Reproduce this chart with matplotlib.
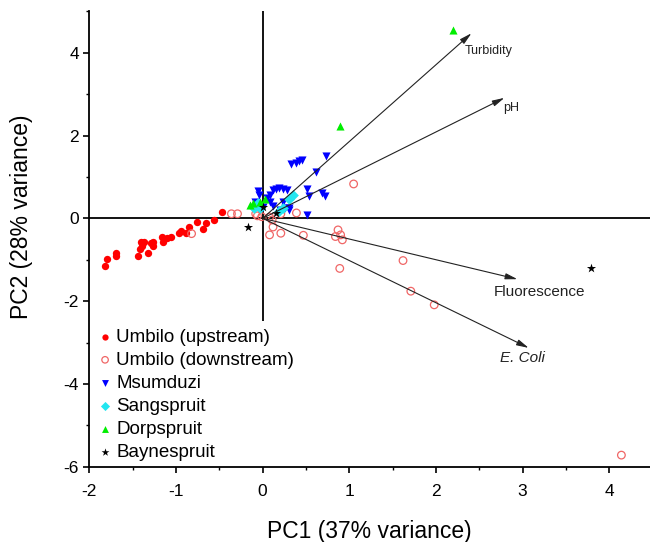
import matplotlib
matplotlib.use("Agg")
import matplotlib.pyplot as plt
from matplotlib.ticker import MultipleLocator

plt.rcParams['font.family'] = ['Liberation Sans', 'DejaVu Sans']
plt.rcParams['axes.unicode_minus'] = False

# PCA scores per site
up_x = [-1.82, -1.80, -1.69, -1.69, -1.44, -1.42, -1.40, -1.37, -1.39, -1.32, -1.29, -1.27, -1.26,
        -1.16, -1.15, -1.10, -1.06, -0.97, -0.94, -0.89, -0.85, -0.76, -0.69, -0.65, -0.56, -0.47]
up_y = [-1.15, -0.99, -0.84, -0.92, -0.92, -0.75, -0.58, -0.56, -0.66, -0.83, -0.60, -0.66, -0.57,
        -0.44, -0.57, -0.48, -0.45, -0.36, -0.31, -0.36, -0.22, -0.08, -0.26, -0.12, -0.05, 0.15]

down_x = [-0.82, -0.36, -0.29, -0.08, -0.06, -0.01, 0.08, 0.11, 0.12, 0.08, 0.21, 0.21,
          0.39, 0.47, 0.84, 0.87, 0.90, 0.92, 0.89, 1.05, 1.62, 1.71, 1.98, 4.14]
down_y = [-0.37, 0.11, 0.11, 0.11, 0.06, 0.04, 0.03, -0.04, -0.21, -0.40, -0.36, 0.11,
          0.13, -0.41, -0.44, -0.28, -0.40, -0.52, -1.21, 0.83, -1.02, -1.76, -2.09, -5.72]

ms_x = [0.33, 0.38, 0.42, 0.45, 0.73, 0.62, 0.51, 0.53, 0.69, 0.72, 0.51, -0.05, -0.04, 0.12, 0.15,
        0.19, 0.24, 0.28, 0.08, 0.05, 0.09, 0.23, 0.26, 0.31, 0.20, 0.12, -0.09, 0.00, 0.30]
ms_y = [1.31, 1.34, 1.39, 1.41, 1.50, 1.13, 0.70, 0.54, 0.62, 0.54, 0.08, 0.66, 0.56, 0.68, 0.72,
        0.74, 0.71, 0.68, 0.56, 0.48, 0.40, 0.40, 0.26, 0.24, 0.20, 0.30, 0.40, 0.28, 0.20]

sg_x = [0.35, 0.30, -0.10, -0.03, 0.23, 0.19, -0.05]
sg_y = [0.57, 0.47, 0.26, 0.24, 0.24, 0.18, 0.36]

dp_x = [2.20, 0.89, -0.15, -0.11, -0.03, 0.03]
dp_y = [4.55, 2.22, 0.33, 0.38, 0.40, 0.46]

bs_x = [-0.17, 0.01, 0.16, 3.79]
bs_y = [-0.22, 0.27, 0.13, -1.20]

# loading vectors
arrow_names = ["Turbidity", "pH", "Fluorescence", "E. Coli"]
arrow_x = [2.41, 2.79, 2.94, 3.07]
arrow_y = [4.47, 2.91, -1.47, -3.13]

fig = plt.figure(figsize=(6.5, 5.42), dpi=100)
ax = fig.add_axes([0.1374, 0.1389, 0.8626, 0.8402])

ax.axhline(0, color='black', lw=1.3, zorder=1)
ax.axvline(0, color='black', lw=1.3, zorder=1)

ax.scatter(up_x, up_y, s=28, marker='o', color='#ff0000', linewidths=0, label='Umbilo (upstream)', zorder=3)
ax.scatter(down_x, down_y, s=30, marker='o', facecolors='none', edgecolors='#f06666', linewidths=0.9,
           label='Umbilo (downstream)', zorder=3)
ax.scatter(ms_x, ms_y, s=34, marker='v', color='#0000ff', linewidths=0, label='Msumduzi', zorder=3)
ax.scatter(sg_x, sg_y, s=30, marker='D', color='#22e6f0', linewidths=0, label='Sangspruit', zorder=3)
ax.scatter(dp_x, dp_y, s=34, marker='^', color='#00ee00', linewidths=0, label='Dorpspruit', zorder=3)
ax.scatter(bs_x, bs_y, s=48, marker='*', color='black', linewidths=0, label='Baynespruit', zorder=3)

for name, x, y in zip(arrow_names, arrow_x, arrow_y):
    ax.annotate('', xy=(x, y), xytext=(0, 0),
                arrowprops=dict(arrowstyle='-|>,head_length=0.6,head_width=0.15',
                                mutation_scale=12, color='#222222', lw=0.8,
                                shrinkA=0, shrinkB=0),
                zorder=4)

ax.text(2.33, 4.04, 'Turbidity', fontsize=9, ha='left', va='center', color='#222222')
ax.text(2.78, 2.66, 'pH', fontsize=9, ha='left', va='center', color='#222222')
ax.text(3.19, -1.77, 'Fluorescence', fontsize=11, ha='center', va='center', color='#222222')
ax.text(3.00, -3.37, 'E. Coli', fontsize=11, ha='center', va='center', style='italic', color='#222222')

ax.set_xlim(-2, 4.47)
ax.set_ylim(-6, 5)
ax.spines['top'].set_visible(False)
ax.spines['right'].set_visible(False)
ax.spines['left'].set_linewidth(1.3)
ax.spines['bottom'].set_linewidth(1.3)

ax.xaxis.set_major_locator(MultipleLocator(1))
ax.xaxis.set_minor_locator(MultipleLocator(0.5))
ax.yaxis.set_major_locator(MultipleLocator(2))
ax.yaxis.set_minor_locator(MultipleLocator(1))
ax.tick_params(which='major', direction='out', length=4.5, width=1.2, labelsize=12.5)
ax.tick_params(which='minor', direction='out', length=2.5, width=1.0)
ax.tick_params(axis='x', which='major', pad=8)
ax.tick_params(axis='y', which='major', pad=3)

ax.set_xlabel('PC1 (37% variance)', fontsize=16.5, labelpad=15)
ax.set_ylabel('PC2 (28% variance)', fontsize=16.5)
ax.yaxis.set_label_coords(-0.10, 0.548)

leg = ax.legend(loc='upper left', bbox_to_anchor=(-0.002, 0.32), fontsize=13.5, frameon=True,
                borderaxespad=0, borderpad=0.4, handletextpad=0.1, handlelength=1.0,
                labelspacing=0.32, scatterpoints=1, markerscale=0.85)
leg.get_frame().set_edgecolor('none')
leg.get_frame().set_facecolor('white')
leg.get_frame().set_alpha(1)
# above the zero lines, below spines and ticks
leg.set_zorder(1.2)

fig.savefig('out.png', dpi=100)
